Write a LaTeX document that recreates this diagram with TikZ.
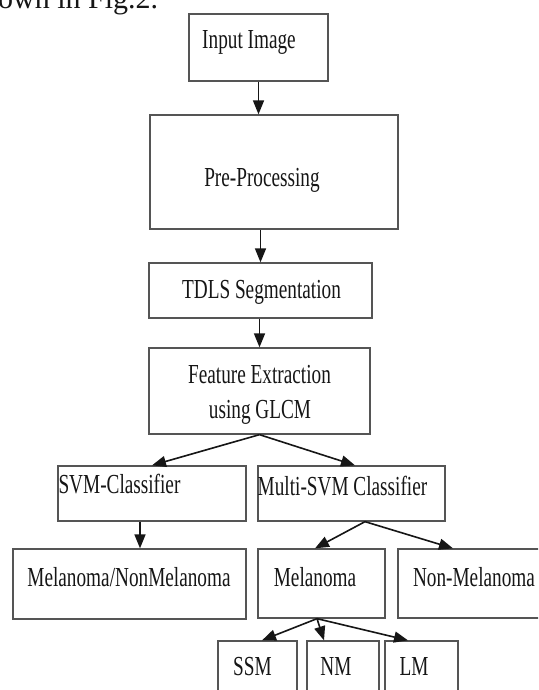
\documentclass[tikz,border=0pt]{standalone}
\usepackage{fontspec}
\setmainfont{Liberation Serif}
\newfontfamily\condfont[FakeStretch=0.7]{Liberation Serif}
\usetikzlibrary{arrows.meta,fit}
\definecolor{boxgray}{HTML}{555555}
\definecolor{inkc}{HTML}{161616}
\begin{document}
\begin{tikzpicture}[x=1pt,y=-1pt,
  box/.style={draw=boxgray, line width=1.3pt, inner sep=0pt},
  lbl/.style={anchor=base, inner sep=0pt, text=inkc, font=\condfont\fontsize{27.5}{35}\selectfont},
  arr/.style={draw=inkc, line width=1.6pt, -{Triangle[length=14pt,width=11pt]}}]
\clip (0,0) rectangle (538,690);
\fill[white] (0,0) rectangle (538,690);

% cut-off body text at the top
\node[anchor=base west, inner sep=0pt, text=inkc, font=\fontsize{30}{30}\selectfont] (caption) at (-2,9) {own in Fig.2.};

% boxes
\node[box, fit={(189,14) (328,81)}] (input) {};
\node[box, fit={(150,115) (398,229)}] (pre) {};
\node[box, fit={(149,263) (372,318)}] (tdls) {};
\node[box, fit={(149,348) (370,434)}] (feat) {};
\node[box, fit={(58,466) (246,521)}] (svm) {};
\node[box, fit={(258,466) (445,521)}] (multi) {};
\node[box, fit={(13,549) (246,619)}] (mnm) {};
\node[box, fit={(258,549) (385,618)}] (mel) {};
\node[box, fit={(398,549) (545,618)}] (nonmel) {};
\node[box, fit={(218,641) (297,700)}] (ssm) {};
\node[box, fit={(307,641) (379,700)}] (nm) {};
\node[box, fit={(385,641) (458,700)}] (lm) {};

% texts
\node[lbl] (inputT) at (249,49) {Input Image};
\node[lbl] (preT) at (262,186) {Pre-Processing};
\node[lbl] (tdlsT) at (261.5,298) {TDLS Segmentation};
\node[lbl] (featT1) at (259.5,383) {Feature Extraction};
\node[lbl] (featT2) at (260,418) {using GLCM};
\node[lbl] (svmT) at (119.5,493) {SVM-Classifier};
\node[lbl] (multiT) at (342.5,495) {Multi-SVM Classifier};
\node[lbl] (mnmT) at (129,586) {Melanoma/NonMelanoma};
\node[lbl] (melT) at (315,586) {Melanoma};
\node[lbl] (nonmelT) at (474,586) {Non-Melanoma};
\node[lbl] (ssmT) at (252.5,675) {SSM};
\node[lbl] (nmT) at (336,675) {NM};
\node[lbl] (lmT) at (414,675) {LM};

% connectors
\draw[arr] (input.south) -- (input.south |- pre.north);
\draw[arr] (tdls.north |- pre.south) -- (tdls.north);
\draw[arr] (feat.north |- tdls.south) -- (feat.north);
\draw[arr] (feat.south) -- (svm.north);
\draw[arr] (feat.south) -- ([xshift=3.5pt]multi.north);
\draw[arr] ([xshift=-12pt]svm.south) -- ([xshift=10.5pt]mnm.north);
\draw[arr] ([xshift=13.5pt]multi.south) -- ([xshift=-6.5pt]mel.north);
\draw[arr] ([xshift=13.5pt]multi.south) -- ([xshift=-18.5pt]nonmel.north);
\draw[arr] ([xshift=-4.5pt]mel.south) -- ([xshift=4.5pt]ssm.north);
\draw[arr] ([xshift=-4.5pt]mel.south) -- ([xshift=-19pt]nm.north);
\draw[arr] ([xshift=-4.5pt]mel.south) -- ([xshift=-13.5pt]lm.north);
\end{tikzpicture}
\end{document}
